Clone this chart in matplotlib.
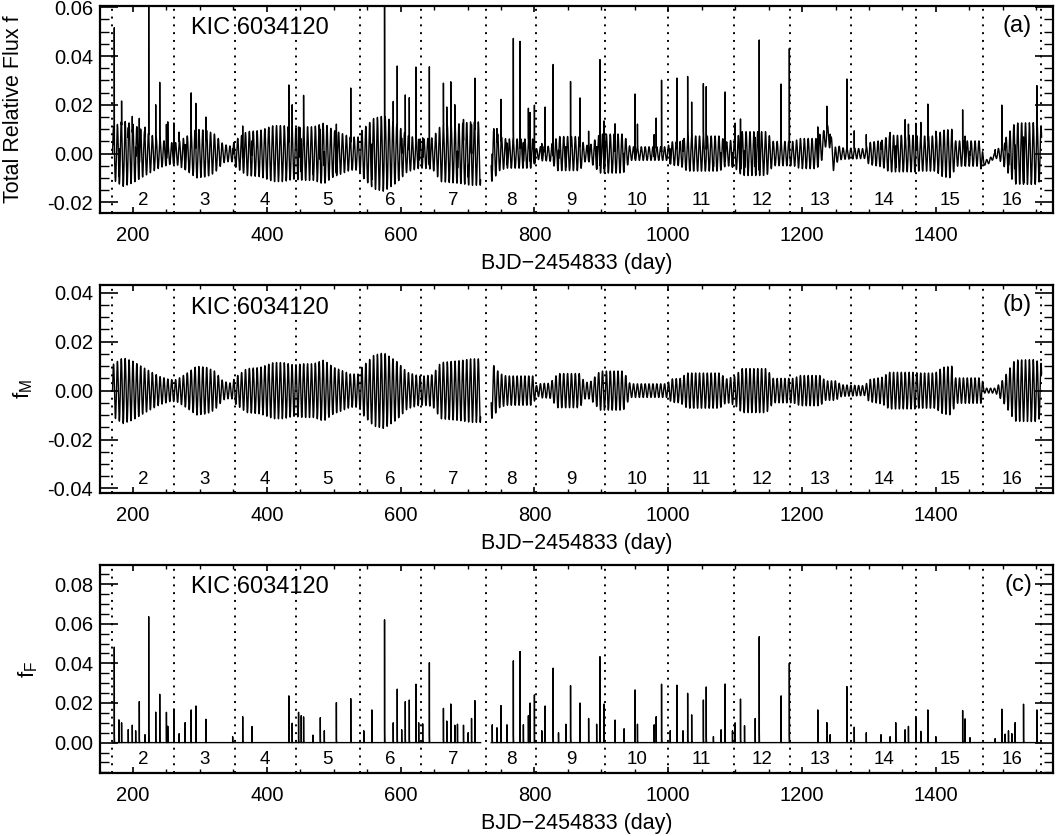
import numpy as np
import matplotlib
matplotlib.use('Agg')
import matplotlib.pyplot as plt
import matplotlib.transforms as mtransforms
from matplotlib.ticker import MultipleLocator, FormatStrFormatter

plt.rcParams['font.family'] = ['Liberation Sans', 'DejaVu Sans']
plt.rcParams['mathtext.fontset'] = 'custom'
plt.rcParams['mathtext.rm'] = 'Liberation Sans'
plt.rcParams['mathtext.it'] = 'Liberation Sans'

# ---------------- data ----------------
# quarter boundaries (dotted lines) and quarter numbers
q_bounds = [169, 261, 352, 443.5, 539, 630.5, 728, 803, 906, 1000, 1098,
            1182, 1273, 1371, 1471, 1557]
q_numbers = [2, 3, 4, 5, 6, 7, 8, 9, 10, 11, 12, 13, 14, 15, 16]

# observing window and data gap
t_start, t_end = 169.5, 1558.0
gap_start, gap_end = 719.6, 735.4
cadence = 0.0204          # Kepler long cadence (days)
rot_period = 5.8          # rotational modulation period (days)

# envelope (semi-amplitude) of the rotational modulation f_M
env_t = [169, 185, 200, 212, 225, 240, 255, 265, 280, 295, 310, 322, 335, 347,
         353, 370, 390, 410, 425, 440, 455, 470, 485, 500, 510, 525, 538, 542,
         560, 575, 594, 610, 628, 635, 648, 660, 690, 705, 719, 736, 748, 758,
         770, 798, 803, 810, 823, 835, 868, 875, 883, 898, 933, 943, 998, 1005,
         1018, 1028, 1077, 1087, 1100, 1110, 1147, 1157, 1187, 1197, 1227, 1235,
         1250, 1259, 1294, 1300, 1320, 1330, 1369, 1374, 1399, 1410, 1424, 1429,
         1469, 1472, 1489, 1499, 1518, 1548, 1558]
env_amp = [0.0105, 0.0135, 0.012, 0.010, 0.008, 0.0058, 0.0045, 0.0045, 0.007,
           0.010, 0.0095, 0.008, 0.0038, 0.003, 0.0055, 0.009, 0.0095, 0.0115,
           0.0115, 0.0105, 0.011, 0.011, 0.0125, 0.0095, 0.0085, 0.0068, 0.0068,
           0.0095, 0.0145, 0.0155, 0.012, 0.0075, 0.006, 0.006, 0.0065, 0.0115,
           0.0123, 0.013, 0.013, 0.0115, 0.007, 0.006, 0.006, 0.006, 0.002, 0.003,
           0.003, 0.007, 0.007, 0.0034, 0.0034, 0.008, 0.008, 0.0028, 0.0028,
           0.0048, 0.005, 0.0072, 0.0072, 0.0048, 0.006, 0.009, 0.009, 0.005,
           0.005, 0.0062, 0.0062, 0.004, 0.004, 0.0024, 0.002, 0.0045, 0.0055,
           0.0075, 0.0075, 0.0072, 0.0072, 0.0095, 0.010, 0.0052, 0.0052, 0.001,
           0.001, 0.004, 0.0125, 0.0127, 0.011]

# extra slow trend present only in the total flux (panel a)
trend_t = [169, 1222, 1230, 1237, 1242, 1247, 1252, 1466, 1471, 1480, 1487, 1495, 1558]
trend_v = [0, 0, 0.003, 0.008, 0.006, -0.003, 0, 0, -0.004, -0.003, -0.001, 0, 0]

# flares: peak time (day) and peak amplitude (relative flux)
flare_t = [172.1, 179, 183, 193, 199, 204, 209.5, 218, 223.5, 234, 240, 250, 252,
           261, 269, 278, 287, 294, 309, 349, 364, 378, 433, 438, 447.5, 451.5,
           455, 469, 480, 486, 504, 525.5, 545, 557, 576, 589, 595, 601.6, 607,
           613, 623, 627, 633, 643, 664, 669, 675, 681, 685, 694, 701, 706, 711,
           737, 744, 750, 759, 768.5, 778.5, 783.5, 791, 793.5, 800, 811, 816,
           828, 836, 847, 854, 868, 881, 893, 898, 904, 920.5, 934, 950.4, 954,
           979, 982, 990, 1003, 1013, 1022, 1029, 1035, 1052.5, 1056.8, 1067.5,
           1079, 1085, 1096, 1100, 1108, 1114, 1130, 1136, 1168.7, 1181, 1223.5,
           1237, 1242, 1267, 1278, 1296, 1318, 1331.6, 1340, 1354, 1359, 1370,
           1377.5, 1388, 1400, 1440, 1443.7, 1451, 1488.6, 1498.5, 1503.5, 1508.5,
           1513.5, 1518.5, 1531, 1551]
flare_h = [0.0482, 0.0115, 0.010, 0.0066, 0.0088, 0.006, 0.0207, 0.004, 0.0636,
           0.0154, 0.0244, 0.0153, 0.0083, 0.017, 0.0045, 0.0101, 0.0165, 0.0185,
           0.0118, 0.003, 0.0131, 0.0081, 0.0236, 0.0098, 0.0153, 0.0136, 0.013,
           0.0038, 0.0126, 0.006, 0.0202, 0.0222, 0.006, 0.0165, 0.062, 0.010,
           0.027, 0.0065, 0.0207, 0.0215, 0.0295, 0.010, 0.0095, 0.0404, 0.0173,
           0.0109, 0.0195, 0.0088, 0.0093, 0.0088, 0.005, 0.0122, 0.0212, 0.009,
           0.0075, 0.0187, 0.009, 0.0413, 0.046, 0.009, 0.0136, 0.020, 0.0241,
           0.006, 0.0185, 0.0376, 0.005, 0.0093, 0.0288, 0.020, 0.0122, 0.0093,
           0.0434, 0.0195, 0.0114, 0.007, 0.0266, 0.0093, 0.009, 0.0131, 0.0295,
           0.006, 0.029, 0.006, 0.0249, 0.014, 0.0215, 0.0281, 0.003, 0.0065,
           0.0296, 0.006, 0.010, 0.022, 0.0085, 0.0122, 0.0535, 0.0236, 0.0401,
           0.0165, 0.0101, 0.004, 0.0283, 0.0078, 0.005, 0.004, 0.003, 0.0101,
           0.0065, 0.0082, 0.0131, 0.0057, 0.0165, 0.003, 0.0162, 0.012, 0.0025,
           0.002, 0.0169, 0.0043, 0.006, 0.0045, 0.0101, 0.0194, 0.0165]
flare_tau = 0.06

# ---------------- build light curves ----------------
t = np.arange(t_start, t_end, cadence)
amp = np.interp(t, env_t, env_amp)
fM = amp * np.sin(2 * np.pi * (t - t_start) / rot_period)
fF = np.zeros_like(t)
for t0, h in zip(flare_t, flare_h):
    i = np.searchsorted(t, t0)
    j = min(len(t), i + 150)
    fF[i:j] += h * np.exp(-(t[i:j] - t[i]) / flare_tau)
trend = np.interp(t, trend_t, trend_v)
f_tot = fM + fF + trend

gap = (t > gap_start) & (t < gap_end)
for arr in (fM, fF, f_tot):
    arr[gap] = np.nan

# ---------------- plotting ----------------
fig = plt.figure(figsize=(10.59, 8.36), dpi=100)
rects = [[0.0944, 0.7448, 0.8999, 0.2480],
         [0.0944, 0.4099, 0.8999, 0.2492],
         [0.0944, 0.0750, 0.8999, 0.2492]]
series = [f_tot, fM, fF]
ylims = [(-0.0245, 0.0605), (-0.042, 0.0432), (-0.0155, 0.0897)]
ymajor = [0.02, 0.02, 0.02]
ylabels = ['Total Relative Flux f', r'$\mathrm{f}_{\mathrm{M}}$', r'$\mathrm{f}_{\mathrm{F}}$']
ylabel_x = [-0.080, -0.068, -0.063]
tags = ['(a)', '(b)', '(c)']
kic_y = [0.894, 0.89, 0.896]

for k in range(3):
    ax = fig.add_axes(rects[k])
    ax.plot(t, series[k], color='k', lw=1.0)
    ax.set_xlim(150.7, 1575)
    ax.set_ylim(*ylims[k])
    for b in q_bounds:
        ax.axvline(b, color='k', ls=(0, (1, 3)), lw=1.4)
    trans = mtransforms.blended_transform_factory(ax.transData, ax.transAxes)
    for q, a, b in zip(q_numbers, q_bounds[:-1], q_bounds[1:]):
        ax.text((a + b) / 2, 0.064, str(q), transform=trans, ha='center',
                va='center', fontsize=13.5)
    ax.text(0.0955, kic_y[k], 'KIC 6034120', transform=ax.transAxes,
            fontsize=17, va='center', ha='left')
    ax.text(0.978, 0.905, tags[k], transform=ax.transAxes, fontsize=17,
            va='center', ha='right')
    ax.xaxis.set_major_locator(MultipleLocator(200))
    ax.xaxis.set_minor_locator(MultipleLocator(50))
    ax.yaxis.set_major_locator(MultipleLocator(ymajor[k]))
    ax.yaxis.set_minor_locator(MultipleLocator(0.005))
    ax.yaxis.set_major_formatter(FormatStrFormatter('%.2f'))
    ax.tick_params(axis='both', which='both', direction='in', top=True,
                   right=True, labelsize=14.5)
    ax.tick_params(axis='y', which='major', length=13, width=1.2, pad=5)
    ax.tick_params(axis='y', which='minor', length=6.5, width=1.0)
    ax.tick_params(axis='x', which='major', length=4.5, width=1.2, pad=9)
    ax.tick_params(axis='x', which='minor', length=2.6, width=1.0)
    for s in ax.spines.values():
        s.set_linewidth(1.6)
    ax.set_xlabel('BJD\u22122454833 (day)', fontsize=15.5, labelpad=6)
    ax.set_ylabel(ylabels[k], fontsize=16 if k else 15.5)
    ax.yaxis.set_label_coords(ylabel_x[k], 0.5)

fig.savefig('out.png', dpi=100)
